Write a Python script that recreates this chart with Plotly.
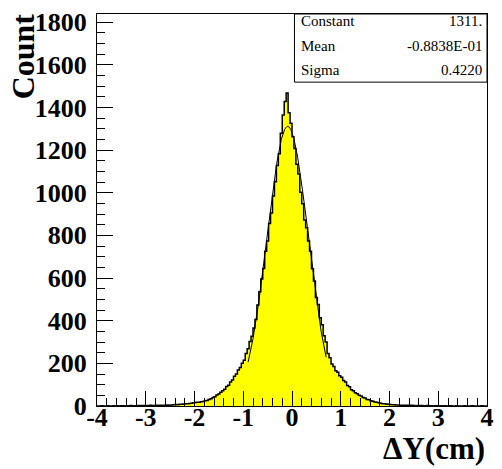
import numpy as np
import plotly.graph_objects as go

# ---- data ----
x_lo, x_hi, n_bins = -4.0, 4.0, 200
counts = [
    0, 0, 1, 0, 0, 1, 0, 0, 1, 0,
    1, 0, 1, 1, 0, 1, 1, 2, 1, 1,
    1, 2, 1, 2, 2, 1, 2, 3, 2, 2,
    3, 2, 3, 4, 3, 4, 5, 4, 5, 6,
    7, 6, 8, 8, 9, 10, 11, 12, 13, 15,
    16, 18, 17, 20, 21, 25, 26, 31, 34, 40,
    43, 51, 56, 64, 71, 78, 91, 97, 113, 122,
    139, 150, 169, 180, 201, 215, 246, 268, 303, 327,
    366, 405, 474, 536, 596, 645, 726, 774, 856, 905,
    985, 1052, 1128, 1183, 1279, 1365, 1428, 1468, 1375, 1326,
    1262, 1207, 1133, 1088, 1002, 948, 872, 836, 774, 726,
    644, 586, 509, 476, 414, 381, 329, 300, 246, 226,
    197, 185, 165, 158, 142, 135, 119, 112, 96, 90,
    76, 71, 62, 58, 50, 47, 40, 37, 31, 29,
    25, 22, 19, 17, 15, 13, 11, 10, 9, 8,
    7, 6, 6, 5, 5, 4, 4, 3, 3, 3,
    2, 3, 2, 2, 1, 2, 2, 1, 1, 2,
    1, 1, 0, 1, 1, 0, 1, 0, 1, 0,
    0, 1, 0, 0, 1, 0, 0, 0, 1, 0,
    0, 0, 1, 0, 0, 0, 0, 1, 0, 0,
]
fit_constant = 1311.0
fit_mean = -0.08838
fit_sigma = 0.4220
fit_range = (-0.9, 0.7)
stat_names = ["Constant", "Mean", "Sigma"]
stat_values = ["1311.", "-0.8838E-01", "0.4220"]
x_ticks = [-4, -3, -2, -1, 0, 1, 2, 3, 4]
x_tick_labels = ["-4", "-3", "-2", "-1", "0", "1", "2", "3", "4"]
y_max = 1838

# ---- build ----
w = (x_hi - x_lo) / n_bins
edges = [x_lo + i * w for i in range(n_bins + 1)]
step_x = edges
step_y = counts + [counts[-1]]

fx = np.linspace(fit_range[0], fit_range[1], 300)
fy = fit_constant * np.exp(-0.5 * ((fx - fit_mean) / fit_sigma) ** 2)

FONT = "Liberation Serif"
fig = go.Figure()
fig.add_trace(go.Scatter(x=step_x, y=step_y, mode="lines", line_shape="hv",
                         fill="tozeroy", fillcolor="#ffff00",
                         line=dict(color="black", width=1.5), hoverinfo="skip"))
fig.add_trace(go.Scatter(x=fx, y=fy, mode="lines",
                         line=dict(color="black", width=1), hoverinfo="skip"))

L, R, T, B = 97, 8, 9, 63
W, H = 502, 469
pw, ph = W - L - R, H - T - B

def px(x):
    return (x - L) / pw

def py(y):
    return (H - B - y) / ph

tick_font = dict(family=FONT, size=26, color="black", weight="bold")
fig.update_layout(
    width=W, height=H, margin=dict(l=L, r=R, t=T, b=B),
    paper_bgcolor="white", plot_bgcolor="white", showlegend=False,
    xaxis=dict(range=[x_lo, x_hi], tickvals=x_ticks, ticktext=x_tick_labels,
               ticks="inside", ticklen=15,
               tickwidth=1, tickcolor="black", showline=True, linecolor="black",
               linewidth=1, mirror=True, showgrid=False, zeroline=False,
               tickfont=tick_font, ticklabelstandoff=-12,
               minor=dict(dtick=0.2, tick0=0, ticks="inside", ticklen=8,
                          tickcolor="black", tickwidth=1, showgrid=False)),
    yaxis=dict(range=[0, y_max], tick0=0, dtick=200, ticks="inside", ticklen=16,
               tickwidth=1, tickcolor="black", showline=True, linecolor="black",
               linewidth=1, mirror=True, showgrid=False, zeroline=False,
               tickfont=tick_font, ticklabelstandoff=4,
               minor=dict(dtick=50, tick0=0, ticks="inside", ticklen=8,
                          tickcolor="black", tickwidth=1, showgrid=False)),
)

fig.add_shape(type="rect", xref="paper", yref="paper",
              x0=px(298), x1=1.0, y0=py(78), y1=1.0,
              line=dict(color="black", width=1), fillcolor="white", layer="above")
rows_y = [16, 41, 66]
for name, val, ry in zip(stat_names, stat_values, rows_y):
    fig.add_annotation(xref="paper", yref="paper", x=px(303), y=py(ry),
                       text=name, showarrow=False, xanchor="left", yanchor="middle",
                       font=dict(family=FONT, size=15, color="black"))
    fig.add_annotation(xref="paper", yref="paper", x=px(491), y=py(ry),
                       text=val, showarrow=False, xanchor="right", yanchor="middle",
                       font=dict(family=FONT, size=15, color="black"))

fig.add_annotation(xref="paper", yref="paper", x=px(22), y=py(6),
                   text="Count", textangle=-90, showarrow=False,
                   xanchor="center", yanchor="top",
                   font=dict(family=FONT, size=32, color="black", weight="bold"))
fig.add_annotation(xref="paper", yref="paper", x=1.0, y=py(449),
                   text="ΔY(cm)", showarrow=False,
                   xanchor="right", yanchor="middle",
                   font=dict(family=FONT, size=31, color="black", weight="bold"))

fig.write_html("out.html")
